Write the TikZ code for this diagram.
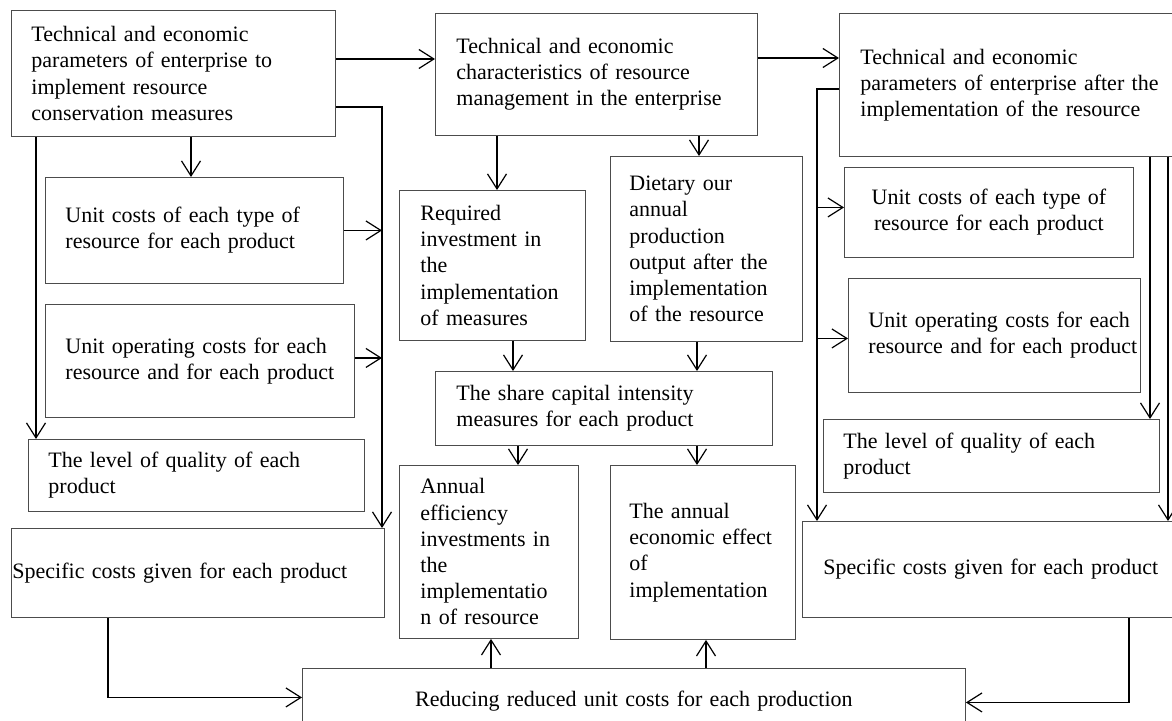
\documentclass[tikz,border=0pt]{standalone}
\usepackage{fontspec}
\setmainfont{Liberation Serif}
\usetikzlibrary{arrows.meta}
\newcommand\fsz{\fontsize{22.0}{26.2}\selectfont}
\newcommand\ml[1]{\mbox{#1}}
\tikzset{
  box/.style={draw=black!70, line width=0.9pt, rectangle, inner ysep=0pt, inner xsep=20pt,
    anchor=north west, font=\fsz, align=left},
  openbox/.style={box, draw=none},
  boxline/.style={draw=black!70, line width=0.9pt},
  conn/.style={line width=1.7pt, -{Straight Barb[length=15pt,width=19pt,line width=1.2pt]}}
}
\begin{document}
\begin{tikzpicture}[x=1pt,y=-1pt]
\useasboundingbox (0,0) rectangle (1172,720);
\fill[white] (0,0) rectangle (1172,720);

% left column
\node[box, minimum width=324pt, minimum height=126pt, text width=284pt] (b1) at (11,10)
  {\ml{Technical and economic}\\\ml{parameters of enterprise to}\\\ml{implement resource}\\\ml{conservation measures}};
\node[box, minimum width=298pt, minimum height=106pt, text width=258pt] (unitL) at (45,177)
  {\ml{Unit costs of each type of}\\\ml{resource for each product}};
\node[box, minimum width=309pt, minimum height=113pt, text width=269pt] (opL) at (45,304)
  {\ml{Unit operating costs for each}\\\ml{resource and for each product}};
\node[box, minimum width=336pt, minimum height=72pt, text width=296pt] (qualL) at (28,439)
  {\ml{The level of quality of each}\\\ml{product}};
\node[box, inner xsep=1pt, minimum width=373pt, minimum height=89pt, text width=371pt] (specL) at (11,528)
  {\ml{Specific costs given for each product}};

% middle column
\node[box, inner xsep=21pt, minimum width=322pt, minimum height=122pt, text width=280pt] (b2) at (435,13)
  {\ml{Technical and economic}\\\ml{characteristics of resource}\\\ml{management in the enterprise}};
\node[box, inner xsep=21pt, minimum width=186pt, minimum height=150pt, text width=144pt] (req) at (399,190)
  {\ml{Required}\\\ml{investment in}\\\ml{the}\\\ml{implementation}\\\ml{of measures}};
\node[box, inner xsep=19pt, minimum width=192pt, minimum height=185pt, text width=154pt] (diet) at (610,156)
  {\ml{Dietary our}\\\ml{annual}\\\ml{production}\\\ml{output after the}\\\ml{implementation}\\\ml{of the resource}};
\node[box, inner xsep=21pt, minimum width=337pt, minimum height=74pt, text width=295pt] (share) at (435,371)
  {\ml{The share capital intensity}\\\ml{measures for each product}};
\node[box, inner xsep=21pt, minimum width=179pt, minimum height=173pt, text width=137pt] (eff) at (399,465)
  {\ml{Annual}\\\ml{efficiency}\\\ml{investments in}\\\ml{the}\\\ml{implementatio}\\\ml{n of resource}};
\node[box, inner xsep=19pt, minimum width=185pt, minimum height=174pt, text width=147pt] (econ) at (610,465)
  {\ml{The annual}\\\ml{economic effect}\\\ml{of}\\\ml{implementation}};
\node[openbox, align=center, minimum width=663pt, minimum height=52pt, text width=623pt,
      text height=24pt, text depth=0pt] (reduce) at (302,668)
  {\ml{Reducing reduced unit costs for each production}};
\draw[boxline] (reduce.south west) -- (reduce.north west) -- (reduce.north east) -- (reduce.south east);

% right column
\node[openbox, inner xsep=21pt, minimum width=333pt, minimum height=143pt, text width=291pt] (b3) at (839,13)
  {\ml{Technical and economic}\\\ml{parameters of enterprise after the}\\\ml{implementation of the resource}};
\draw[boxline] (b3.north east) -- (b3.north west) -- (b3.south west) -- (b3.south east);
\node[box, align=center, minimum width=289pt, minimum height=90pt, text width=249pt] (unitR) at (844,167)
  {\ml{Unit costs of each type of}\\\ml{resource for each product}};
\node[box, minimum width=292pt, minimum height=114pt, text width=252pt] (opR) at (848,278)
  {\ml{Unit operating costs for each}\\\ml{resource and for each product}};
\node[box, minimum width=336pt, minimum height=73pt, text width=296pt] (qualR) at (823,419)
  {\ml{The level of quality of each}\\\ml{product}};
\node[openbox, inner xsep=21pt, minimum width=370pt, minimum height=96pt, text width=328pt] (specR) at (802,521)
  {\ml{Specific costs given for each product}};
\draw[boxline] (specR.north east) -- (specR.north west) -- (specR.south west) -- (specR.south east);

% helper coordinates
\coordinate (xa) at (36,0);
\coordinate (xb) at (191,0);
\coordinate (xc) at (382,0);
\coordinate (xd) at (108,0);
\coordinate (xe) at (497,0);
\coordinate (xf) at (699,0);
\coordinate (xg) at (513,0);
\coordinate (xh) at (697,0);
\coordinate (xi) at (518,0);
\coordinate (xj) at (491,0);
\coordinate (xk) at (706,0);
\coordinate (xl) at (1129,0);
\coordinate (xm) at (817,0);
\coordinate (xn) at (1150,0);
\coordinate (xo) at (1168,0);
\coordinate (p1) at ([yshift=-49pt]b1.north east);
\coordinate (p2) at ([yshift=-45pt]b2.north east);
\coordinate (p3) at ([yshift=-97pt]b1.north east);
\coordinate (p16) at ([yshift=-76pt]b3.north west);
\coordinate (pr) at ([yshift=-8pt]reduce.east);

% connectors
\draw[conn] (p1) -- (p1 -| b2.west);
\draw[conn] (p2) -- (p2 -| b3.west);
\draw[conn] (p3) -| (specL.north -| xc);
\draw[conn] (unitL.east) -- (unitL.east -| xc);
\draw[conn] ([yshift=3pt]opL.east) -- ([yshift=3pt]opL.east -| xc);
\draw[conn] (b1.south -| xb) -- (unitL.north -| xb);
\draw[conn] (b1.south -| xa) -- (qualL.north -| xa);
\draw[conn] (specL.south -| xd) |- ([yshift=-3pt]reduce.west);
\draw[conn] (b2.south -| xe) -- (req.north -| xe);
\draw[conn] (b2.south -| xf) -- (diet.north -| xf);
\draw[conn] (req.south -| xg) -- (share.north -| xg);
\draw[conn] (diet.south -| xh) -- (share.north -| xh);
\draw[conn] (share.south -| xi) -- (eff.north -| xi);
\draw[conn] (share.south -| xh) -- (econ.north -| xh);
\draw[conn] (reduce.north -| xj) -- (eff.south -| xj);
\draw[conn] (reduce.north -| xk) -- (econ.south -| xk);
\draw[conn] (specR.south -| xl) |- (pr);
\draw[conn] (p16) -| (specR.north -| xm);
\draw[conn] ([yshift=5pt]unitR.west -| xm) -- ([yshift=5pt]unitR.west);
\draw[conn] ([yshift=-3pt]opR.west -| xm) -- ([yshift=-3pt]opR.west);
\draw[conn] (b3.south -| xn) -- (qualR.north -| xn);
\draw[conn] (b3.south -| xo) -- (specR.north -| xo);
\end{tikzpicture}
\end{document}
